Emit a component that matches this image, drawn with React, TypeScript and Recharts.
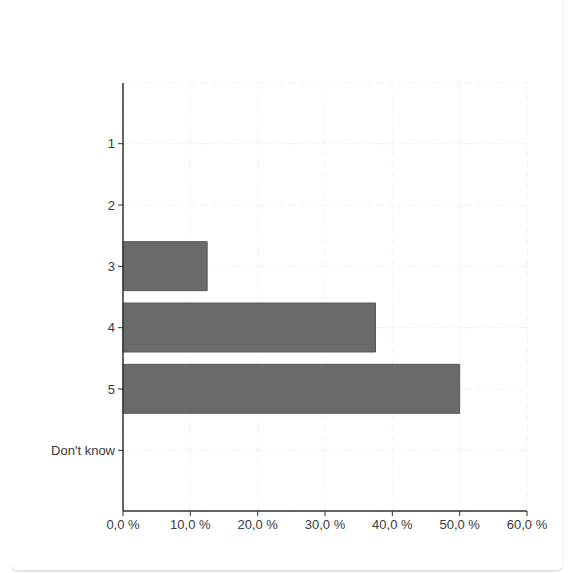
import { BarChart, Bar, XAxis, YAxis, CartesianGrid } from 'recharts';

// answer categories and share of responses (%)
const categories = ['1', '2', '3', '4', '5', "Don't know"];
const shares = [0, 0, 12.5, 37.5, 50, 0];
const xTicks = [0, 10, 20, 30, 40, 50, 60];

const data = categories.map((c, i) => ({ label: c, value: shares[i] }));

const fmt = (v: number) => v.toFixed(1).replace('.', ',') + ' %';

export default function App() {
  return (
    <div style={{ position: 'absolute', left: 0, top: 0, width: 572, height: 573, background: '#fff' }}>
      <div
        style={{
          position: 'absolute',
          left: 10,
          top: -10,
          width: 553,
          height: 580,
          borderBottom: '2px solid #e4e4e4',
          borderRight: '1px solid #f3f3f3',
          borderRadius: 8,
        }}
      />
      <BarChart
        layout="vertical"
        width={572}
        height={573}
        data={data}
        margin={{ top: 83, right: 45, bottom: 32, left: 0 }}
        barSize={49}
        style={{ position: 'absolute', left: 0, top: 0, fontFamily: '"Liberation Sans", Arial, sans-serif' }}
      >
        <CartesianGrid stroke="#f2f2f2" strokeDasharray="8 3" />
        <XAxis
          type="number"
          domain={[0, 60]}
          ticks={xTicks}
          tickFormatter={fmt}
          height={30}
          axisLine={{ stroke: '#333', strokeWidth: 1.5 }}
          tickLine={{ stroke: '#333' }}
          tickSize={5}
          tickMargin={4}
          tick={{ fill: '#3a3a3a', fontSize: 13 }}
          interval={0}
        />
        <YAxis
          type="category"
          dataKey="label"
          width={123}
          padding={{ top: 30, bottom: 30 }}
          axisLine={{ stroke: '#333', strokeWidth: 1.5 }}
          tickLine={{ stroke: '#333' }}
          tickSize={5}
          tickMargin={3}
          tick={{ fill: '#3a3a3a', fontSize: 13 }}
          interval={0}
        />
        <Bar dataKey="value" fill="#6a6a6a" stroke="#5a5a5a" isAnimationActive={false} />
      </BarChart>
    </div>
  );
}
